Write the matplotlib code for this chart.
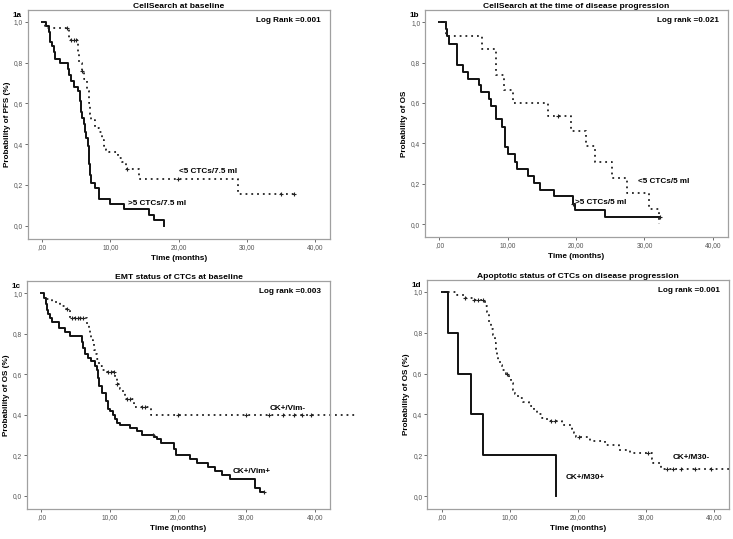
import numpy as np
import matplotlib.pyplot as plt
from matplotlib.ticker import FuncFormatter

plt.rcParams['font.family'] = ['Liberation Sans', 'DejaVu Sans']

# 1a  CellSearch at baseline (PFS)
a_hi_t = [0, 0.5, 1.0, 1.2, 1.4, 1.7, 1.9, 2.6, 3.8, 4.0, 4.3, 4.6, 5.3, 5.5, 5.7, 5.9,
          6.1, 6.3, 6.5, 6.7, 6.8, 6.9, 7.0, 7.1, 7.7, 8.4, 10.0, 12.0, 15.6, 16.4, 17.9]
a_hi_s = [1.0, 0.98, 0.95, 0.90, 0.88, 0.85, 0.82, 0.80, 0.77, 0.74, 0.71, 0.68, 0.66, 0.61, 0.56, 0.53,
          0.50, 0.46, 0.43, 0.39, 0.35, 0.30, 0.25, 0.21, 0.185, 0.13, 0.105, 0.08, 0.05, 0.025, 0.0]
a_lo_t = [0, 0.4, 3.95, 5.2, 5.4, 5.8, 6.2, 6.6, 6.8, 7.0, 7.2, 7.8, 8.4, 8.8, 9.1, 9.4, 9.8,
          11.1, 11.7, 12.3, 14.2, 28.7, 36.9]
a_lo_s = [1.0, 0.97, 0.91, 0.85, 0.80, 0.76, 0.72, 0.66, 0.60, 0.55, 0.52, 0.48, 0.46, 0.42, 0.39, 0.37, 0.36,
          0.33, 0.31, 0.28, 0.23, 0.155, 0.155]
a_lo_cens = [3.6, 4.3, 4.6, 4.9, 5.8, 12.5, 19.95, 35.1, 36.9]

# 1b  CellSearch at the time of disease progression (OS)
b_hi_t = [0, 1.0, 1.1, 1.4, 2.5, 3.4, 4.2, 5.8, 6.1, 7.2, 7.5, 8.2, 9.1, 9.6, 10.0, 11.0, 11.4,
          12.9, 13.9, 14.7, 16.8, 19.5, 19.8, 24.2, 32.3]
b_hi_s = [1.0, 0.965, 0.93, 0.895, 0.79, 0.755, 0.72, 0.69, 0.655, 0.62, 0.585, 0.52, 0.48, 0.38, 0.345, 0.31, 0.275,
          0.24, 0.205, 0.17, 0.14, 0.10, 0.07, 0.035, 0.035]
b_hi_cens = [19.6, 32.3]
b_lo_t = [0, 1.0, 6.2, 8.2, 9.5, 10.7, 15.9, 19.3, 21.4, 22.7, 25.3, 27.5, 30.6, 32.1]
b_lo_s = [1.0, 0.934, 0.869, 0.738, 0.667, 0.60, 0.536, 0.459, 0.389, 0.307, 0.23, 0.154, 0.077, 0.0]
b_lo_cens = [17.3]

# 1c  EMT status of CTCs at baseline (OS)
c_pos_t = [0, 0.35, 0.6, 0.85, 1.0, 1.2, 1.6, 2.5, 3.5, 4.2, 5.9, 6.1, 6.3, 6.8, 7.2, 7.9, 8.1, 8.2,
           8.4, 8.9, 9.4, 9.7, 10.1, 10.5, 10.8, 11.1, 11.5, 13.0, 14.0, 14.7, 16.5, 16.9, 17.5,
           19.4, 19.7, 21.8, 22.8, 24.4, 25.4, 26.4, 27.6, 31.2, 32.0, 32.5]
c_pos_s = [1.0, 0.98, 0.95, 0.92, 0.90, 0.88, 0.86, 0.83, 0.81, 0.79, 0.76, 0.73, 0.70, 0.68, 0.665, 0.64, 0.62, 0.58,
           0.54, 0.51, 0.47, 0.43, 0.42, 0.40, 0.38, 0.36, 0.35, 0.335, 0.32, 0.30, 0.29, 0.28, 0.26,
           0.23, 0.20, 0.18, 0.16, 0.14, 0.12, 0.10, 0.08, 0.04, 0.02, 0.02]
c_pos_cens = [16.3, 32.5]
c_neg_t = [0, 0.3, 1.5, 2.7, 3.5, 4.2, 6.7, 6.9, 7.1, 7.3, 7.5, 7.7, 7.9, 8.1, 8.4, 8.9, 9.6,
           10.8, 11.0, 11.5, 11.9, 12.2, 13.6, 16.0, 46.0]
c_neg_s = [1.0, 0.975, 0.96, 0.94, 0.925, 0.88, 0.85, 0.83, 0.80, 0.77, 0.75, 0.72, 0.70, 0.675, 0.64, 0.62, 0.61,
           0.58, 0.55, 0.53, 0.51, 0.48, 0.44, 0.40, 0.40]
c_neg_cens = [3.75, 4.5, 4.9, 5.3, 5.7, 6.1, 9.8, 10.2, 10.6, 11.1, 12.5, 13.0, 14.7, 15.2,
              20.0, 29.9, 33.3, 35.3, 37.0, 38.1, 39.4]

# 1d  Apoptotic status of CTCs on disease progression (OS)
d_pos_t = [0, 0.9, 2.45, 4.3, 6.0, 16.8]
d_pos_s = [1.0, 0.8, 0.6, 0.4, 0.2, 0.0]
d_neg_t = [0, 2.2, 3.3, 4.6, 6.3, 6.6, 6.9, 7.3, 7.6, 7.85, 8.0, 8.1, 8.3, 8.6, 8.9, 9.4, 9.9,
           10.2, 10.4, 10.7, 11.2, 11.9, 12.8, 13.5, 14.0, 14.7, 15.5, 17.7, 19.1, 19.4, 19.7,
           21.8, 24.0, 26.0, 27.6, 30.8, 31.0, 32.2, 42.2]
d_neg_s = [1.0, 0.985, 0.97, 0.96, 0.93, 0.90, 0.85, 0.82, 0.79, 0.75, 0.72, 0.69, 0.66, 0.64, 0.62, 0.60, 0.58,
           0.555, 0.52, 0.50, 0.48, 0.46, 0.44, 0.42, 0.40, 0.385, 0.37, 0.35, 0.33, 0.31, 0.29,
           0.27, 0.25, 0.225, 0.21, 0.18, 0.16, 0.135, 0.135]
d_neg_cens = [3.4, 4.7, 5.4, 6.0, 9.6, 16.1, 16.7, 20.2, 30.2, 33.1, 34.0, 35.1, 37.1, 39.5]

xtick_vals = [0, 10, 20, 30, 40]
ytick_vals = [0.0, 0.2, 0.4, 0.6, 0.8, 1.0]

FS = 5.9


def km(ax, t, s, dotted, cens=(), clip=True):
    if dotted:
        ax.step(t, s, where='post', color='#222222', lw=1.3, ls=(0, (1, 2.2)), clip_on=clip)
    else:
        ax.step(t, s, where='post', color='#111111', lw=1.4, clip_on=clip)
    if len(cens):
        idx = np.searchsorted(t, cens, side='right') - 1
        ax.plot(cens, np.array(s)[idx], ls='none', marker='+', ms=3.5, mew=0.8,
                color='#222222', clip_on=False)


def style(ax, title, tag, ylabel, p):
    ax.set_xlim(-2.1, 42.2)
    ax.set_ylim(-0.065, 1.06)
    ax.set_xticks(xtick_vals)
    ax.set_yticks(ytick_vals)
    ax.xaxis.set_major_formatter(FuncFormatter(lambda v, i: ',00' if v == 0 else f'{v:.2f}'.replace('.', ',')))
    ax.yaxis.set_major_formatter(FuncFormatter(lambda v, i: f'{v:.1f}'.replace('.', ',')))
    ax.tick_params(labelsize=4.8, colors='#555555', length=2, width=0.6, pad=1.5)
    for sp in ax.spines.values():
        sp.set_color('#a0a0a0')
        sp.set_linewidth(0.9)
    ax.set_title(title, fontsize=6.1, fontweight='bold', pad=1.5)
    ax.set_xlabel('Time (months)', fontsize=FS, fontweight='bold', labelpad=3)
    ax.set_ylabel(ylabel, fontsize=FS, fontweight='bold', labelpad=2)
    ax.text(-0.036, 0.976, tag, transform=ax.transAxes, fontsize=FS, fontweight='bold', ha='center', va='center')
    ax.text(0.97, 0.955, p, transform=ax.transAxes, fontsize=FS, fontweight='bold', ha='right', va='center')


fig = plt.figure(figsize=(7.33, 5.39), dpi=100)
ax1 = fig.add_axes([0.038, 0.557, 0.412, 0.425])
ax2 = fig.add_axes([0.580, 0.560, 0.413, 0.421])
ax3 = fig.add_axes([0.037, 0.056, 0.413, 0.422])
ax4 = fig.add_axes([0.583, 0.055, 0.412, 0.426])

km(ax1, a_hi_t, a_hi_s, False)
km(ax1, a_lo_t, a_lo_s, True, a_lo_cens)
ax1.text(20.0, 0.265, '<5 CTCs/7.5 ml', fontsize=FS, fontweight='bold', va='center')
ax1.text(12.6, 0.11, '>5 CTCs/7.5 ml', fontsize=FS, fontweight='bold', va='center')
style(ax1, 'CellSearch at baseline', '1a', 'Probability of PFS (%)', 'Log Rank =0.001')

km(ax2, b_hi_t, b_hi_s, False, b_hi_cens)
km(ax2, b_lo_t, b_lo_s, True, b_lo_cens)
ax2.text(29.1, 0.21, '<5 CTCs/5 ml', fontsize=FS, fontweight='bold', va='center')
ax2.text(19.9, 0.107, '>5 CTCs/5 ml', fontsize=FS, fontweight='bold', va='center')
style(ax2, 'CellSearch at the time of disease progression', '1b', 'Probability of OS', 'Log rank =0.021')

km(ax3, c_pos_t, c_pos_s, False, c_pos_cens)
km(ax3, c_neg_t, c_neg_s, True, c_neg_cens, clip=False)
ax3.text(33.4, 0.43, 'CK+/Vim-', fontsize=FS, fontweight='bold', va='center')
ax3.text(28.0, 0.12, 'CK+/Vim+', fontsize=FS, fontweight='bold', va='center')
style(ax3, 'EMT status of CTCs at baseline', '1c', 'Probability of OS (%)', 'Log rank =0.003')

km(ax4, d_pos_t, d_pos_s, False)
km(ax4, d_neg_t, d_neg_s, True, d_neg_cens)
ax4.text(33.9, 0.19, 'CK+/M30-', fontsize=FS, fontweight='bold', va='center')
ax4.text(18.2, 0.09, 'CK+/M30+', fontsize=FS, fontweight='bold', va='center')
style(ax4, 'Apoptotic status of CTCs on disease progression', '1d', 'Probability of OS (%)', 'Log rank =0.001')

fig.savefig('out.png', dpi=100)
